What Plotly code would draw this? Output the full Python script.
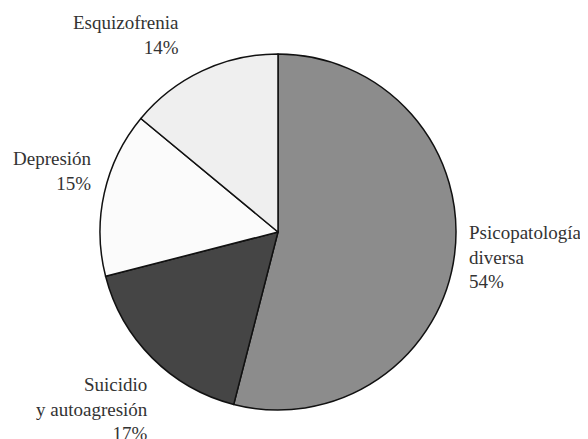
import plotly.graph_objects as go

categories = ["Psicopatología diversa", "Suicidio y autoagresión", "Depresión", "Esquizofrenia"]
label_lines = ["Psicopatología<br>diversa", "Suicidio<br>y autoagresión", "Depresión", "Esquizofrenia"]
values = [54, 17, 15, 14]
colors = ["#8c8c8c", "#454545", "#fbfbfb", "#efefef"]

W, H = 590, 431
SERIF = "Liberation Serif"


def px(x):
    return x / W


def py(y):
    return 1 - y / H


# pie geometry in figure pixels (center x, center y, radius)
CX, CY, R = 270, 224, 178

fig = go.Figure(go.Pie(
    labels=categories,
    values=values,
    sort=False,
    direction="clockwise",
    rotation=0,
    marker=dict(colors=colors, line=dict(color="#111111", width=1.5)),
    textinfo="none",
    domain=dict(x=[px(CX - R), px(CX + R)], y=[py(CY + R), py(CY - R)]),
))

# label placement in figure pixels: x, y (block centre), xanchor
placements = [
    (459, 249, "left"),
    (142, 400.5, "right"),
    (86, 162.5, "right"),
    (173, 26.5, "right"),
]
for lab, val, (x, y, anc) in zip(label_lines, values, placements):
    fig.add_annotation(
        x=px(x), y=py(y), xref="paper", yref="paper",
        xanchor=anc, yanchor="middle",
        text=lab + "<br>" + str(val) + "%",
        align=anc,
        showarrow=False,
        font=dict(family=SERIF, size=19, color="#333333"),
    )

fig.update_layout(
    width=W, height=H,
    margin=dict(l=0, r=0, t=0, b=0),
    font=dict(family=SERIF, size=19, color="#333333"),
    showlegend=False,
)
fig.write_html("out.html")
